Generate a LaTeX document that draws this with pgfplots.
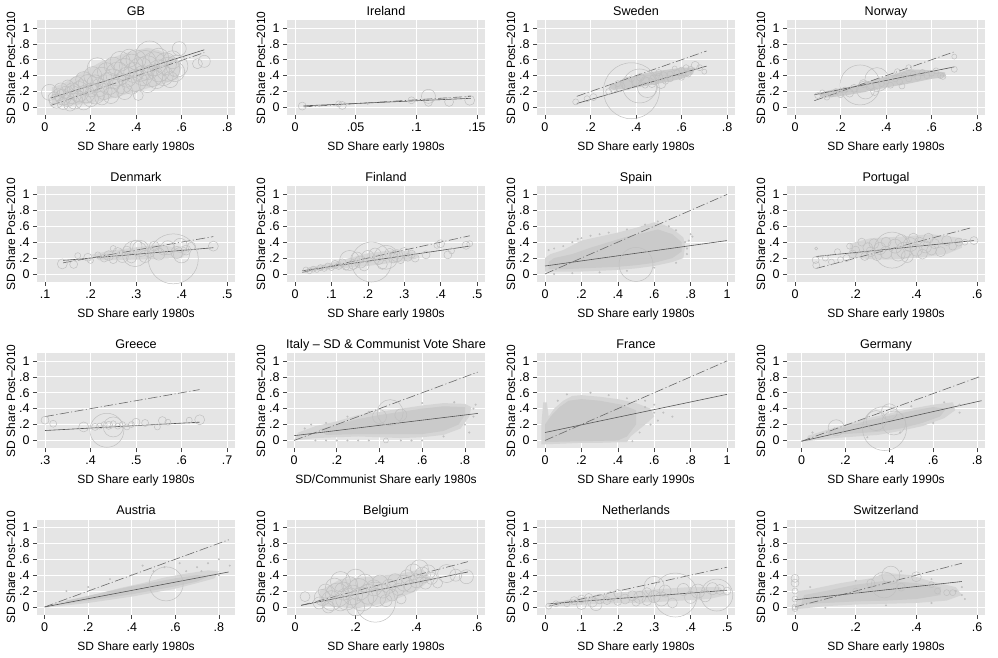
\documentclass[border=0pt]{standalone}
\usepackage{fontspec}
\setmainfont{Liberation Sans}
\usepackage{pgfplots}
\pgfplotsset{compat=1.18}
\definecolor{bg}{RGB}{229,229,229}
\definecolor{pt}{RGB}{192,192,192}
\definecolor{cin}{RGB}{202,202,202}
\definecolor{cout}{RGB}{213,213,213}
\definecolor{cul}{RGB}{214,214,214}
\definecolor{fitc}{RGB}{85,85,85}
\definecolor{refc}{RGB}{105,105,105}
\definecolor{tickc}{RGB}{70,70,70}
\pgfplotsset{
  every axis title shift=0pt,
  panel/.style={
    anchor=south west,
    scale only axis, width=198pt, height=95.4pt,
    ymin=-0.1, ymax=1.1,
    ytick={0,0.2,0.4,0.6,0.8,1},
    yticklabels={0,.2,.4,.6,.8,1},
    axis background/.style={fill=bg},
    axis line style={draw=none},
    grid=major,
    major grid style={draw=white, line width=0.8pt},
    tick align=outside,
    tick pos=left,
    major tick length=4pt,
    tick style={draw=tickc, line width=0.6pt},
    xticklabel style={font=\fontsize{12.5}{14}\selectfont, text=black},
    yticklabel style={font=\fontsize{12.5}{14}\selectfont, text=black},
    title style={at={(axis description cs:0.5,1.052)}, anchor=base, font=\fontsize{12.6}{15}\selectfont},
    every axis x label/.style={at={(axis description cs:0.5,-0.372)}, anchor=base, font=\fontsize{12}{14}\selectfont},
    every axis y label/.style={at={(axis description cs:-0.111,0.5)}, rotate=90, anchor=base, font=\fontsize{12}{14}\selectfont},
    ylabel={SD Share Post–2010},
    xlabel={SD Share early 1980s},
  },
  rings/.style={
    only marks, scatter, mark=o,
    scatter/use mapped color={draw=pt, fill=none},
    mark options={line width=0.5pt},
    visualization depends on={\thisrow{r}\as\rad},
    scatter/@pre marker code/.append style={/tikz/mark size=\rad pt},
  },
  dots/.style={only marks, color=pt, mark=*, mark size=0.8pt, mark options={fill=pt, draw=none}},
  fit/.style={fitc, line width=0.6pt},
  ref/.style={refc, line width=0.6pt, dash pattern=on 9pt off 2.5pt on 1pt off 2.5pt},
}
\begin{document}
\begin{tikzpicture}
\useasboundingbox (0pt,0pt) rectangle (998pt,657pt);
% ---------------- Row 1 ----------------
\begin{axis}[panel, at={(37pt,541.6pt)}, title={GB},
  xmin=-0.035, xmax=0.835, xtick={0,0.2,0.4,0.6,0.8}, xticklabels={0,.2,.4,.6,.8}]
\addplot[fill=cul, draw=none] coordinates {(0.03,0.05) (0.1,0.02) (0.2,0.05) (0.3,0.12) (0.4,0.2) (0.5,0.28) (0.58,0.35) (0.6,0.5) (0.58,0.62) (0.5,0.72) (0.45,0.75) (0.35,0.68) (0.25,0.58) (0.15,0.42) (0.08,0.3) (0.03,0.25)} -- cycle;
\addplot[rings] table[row sep=\\] {x y r\\
0.02 0.19 8\\ 0.04 0.12 6\\ 0.05 0.08 7\\ 0.06 0.16 6\\ 0.07 0.22 7\\ 0.08 0.05 6\\ 0.08 0.13 8\\ 0.09 0.19 6\\
0.10 0.10 7\\ 0.10 0.27 6\\ 0.11 0.03 6\\ 0.12 0.16 9\\ 0.12 0.22 7\\ 0.13 0.08 8\\ 0.14 0.30 7\\ 0.15 0.13 6\\
0.15 0.20 10\\ 0.16 0.26 7\\ 0.17 0.07 8\\ 0.17 0.35 8\\ 0.18 0.17 9\\ 0.19 0.29 10\\ 0.20 0.11 8\\ 0.20 0.22 7\\
0.21 0.40 9\\ 0.22 0.17 10\\ 0.22 0.31 8\\ 0.23 0.50 10\\ 0.24 0.25 9\\ 0.25 0.12 7\\ 0.25 0.38 10\\ 0.26 0.20 8\\
0.27 0.45 9\\ 0.28 0.30 11\\ 0.29 0.15 8\\ 0.30 0.36 10\\ 0.30 0.52 9\\ 0.31 0.24 9\\ 0.32 0.42 12\\ 0.33 0.58 10\\
0.34 0.30 10\\ 0.35 0.20 8\\ 0.35 0.48 11\\ 0.36 0.38 10\\ 0.37 0.62 9\\ 0.38 0.28 9\\ 0.38 0.52 12\\ 0.39 0.44 10\\
0.40 0.34 11\\ 0.40 0.60 10\\ 0.41 0.15 5\\ 0.42 0.48 12\\ 0.43 0.40 10\\ 0.44 0.58 11\\ 0.45 0.30 9\\ 0.45 0.50 12\\
0.46 0.66 14\\ 0.47 0.40 11\\ 0.48 0.55 12\\ 0.49 0.35 9\\ 0.50 0.62 10\\ 0.50 0.46 11\\ 0.52 0.40 10\\ 0.53 0.55 11\\
0.54 0.48 12\\ 0.55 0.35 8\\ 0.56 0.60 9\\ 0.57 0.45 10\\ 0.58 0.52 11\\ 0.59 0.74 7\\ 0.67 0.55 5\\ 0.70 0.58 6\\
};
\addplot[fit] coordinates {(0.026,0.118) (0.70,0.725)};
\addplot[ref] coordinates {(0.026,0.026) (0.70,0.69)};
\end{axis}

\begin{axis}[panel, at={(287pt,541.6pt)}, title={Ireland},
  xmin=-0.0066, xmax=0.1566, xtick={0,0.05,0.1,0.15}, xticklabels={0,.05,.1,.15}]
\addplot[rings] table[row sep=\\] {x y r\\
0.006 0.017 4\\ 0.036 0.045 3\\ 0.039 0.025 4\\ 0.096 0.09 3.5\\ 0.110 0.14 7\\ 0.110 0.065 4\\ 0.127 0.07 4.5\\ 0.144 0.09 5\\ 0.02 0.02 1\\ 0.06 0.05 1\\
};
\addplot[fit] coordinates {(0.007,0.02) (0.145,0.115)};
\addplot[ref] coordinates {(0.007,0.007) (0.145,0.14)};
\end{axis}

\begin{axis}[panel, at={(537pt,541.6pt)}, title={Sweden},
  xmin=-0.035, xmax=0.835, xtick={0,0.2,0.4,0.6,0.8}, xticklabels={0,.2,.4,.6,.8}]
\addplot[fill=cin, draw=none] coordinates {(0.3,0.22) (0.4,0.25) (0.5,0.3) (0.6,0.36) (0.65,0.42) (0.66,0.5) (0.6,0.5) (0.5,0.46) (0.42,0.42) (0.35,0.36) (0.3,0.3) (0.28,0.25)} -- cycle;
\addplot[rings] table[row sep=\\] {x y r\\
0.135 0.07 3\\ 0.185 0.11 3\\ 0.213 0.13 3.5\\ 0.28 0.2 3\\ 0.30 0.24 4\\ 0.33 0.26 5\\ 0.38 0.21 28\\ 0.416 0.27 17\\
0.45 0.25 10\\ 0.36 0.30 6\\ 0.40 0.33 5\\ 0.44 0.34 4\\ 0.48 0.35 5\\ 0.50 0.38 4\\ 0.52 0.40 4\\ 0.55 0.42 3\\
0.58 0.44 3\\ 0.60 0.47 3\\ 0.62 0.50 3\\ 0.64 0.48 3\\ 0.66 0.53 4\\ 0.70 0.45 2.5\\ 0.55 0.36 3\\ 0.47 0.30 4\\
0.42 0.38 4\\ 0.50 0.44 3\\ 0.57 0.49 2.5\\ 0.63 0.42 3\\ 0.53 0.33 3\\ 0.60 0.38 3\\ 0.44 0.28 3\\ 0.38 0.36 3\\
0.32 0.30 3\\ 0.51 0.30 5\\ 0.68 0.50 3\\
};
\addplot[fit] coordinates {(0.14,0.05) (0.71,0.52)};
\addplot[ref] coordinates {(0.14,0.14) (0.71,0.71)};
\end{axis}

\begin{axis}[panel, at={(787pt,541.6pt)}, title={Norway},
  xmin=-0.035, xmax=0.835, xtick={0,0.2,0.4,0.6,0.8}, xticklabels={0,.2,.4,.6,.8}]
\addplot[fill=cin, draw=none] coordinates {(0.12,0.12) (0.2,0.14) (0.3,0.19) (0.4,0.25) (0.5,0.3) (0.6,0.36) (0.66,0.38) (0.66,0.44) (0.58,0.47) (0.5,0.48) (0.44,0.42) (0.36,0.36) (0.26,0.27) (0.16,0.22) (0.1,0.18)} -- cycle;
\addplot[rings] table[row sep=\\] {x y r\\
0.1 0.15 3\\ 0.12 0.19 2.5\\ 0.14 0.13 3\\ 0.16 0.17 3\\ 0.18 0.2 3\\ 0.2 0.16 3\\ 0.22 0.22 3\\ 0.24 0.18 4\\
0.26 0.24 4\\ 0.286 0.283 20\\ 0.36 0.35 12\\ 0.31 0.22 9\\ 0.3 0.3 4\\ 0.33 0.26 4\\ 0.35 0.2 4\\ 0.38 0.3 3\\
0.4 0.33 3\\ 0.42 0.28 3\\ 0.44 0.36 3\\ 0.46 0.32 3\\ 0.48 0.4 3\\ 0.5 0.36 3\\ 0.5 0.5 3\\ 0.52 0.42 3\\
0.54 0.38 3\\ 0.56 0.44 3\\ 0.58 0.4 3\\ 0.6 0.43 3\\ 0.62 0.46 3\\ 0.64 0.4 3\\ 0.65 0.39 3\\ 0.7 0.48 3\\
0.7 0.64 2.5\\ 0.45 0.45 3\\ 0.47 0.27 3\\
};
\addplot[fit] coordinates {(0.085,0.16) (0.70,0.51)};
\addplot[ref] coordinates {(0.085,0.085) (0.70,0.70)};
\end{axis}

% ---------------- Row 2 ----------------
\begin{axis}[panel, at={(37pt,375.1pt)}, title={Denmark},
  xmin=0.0824, xmax=0.5176, xtick={0.1,0.2,0.3,0.4,0.5}, xticklabels={.1,.2,.3,.4,.5}]
\addplot[fill=cul, draw=none] coordinates {(0.22,0.17) (0.3,0.18) (0.4,0.2) (0.42,0.3) (0.35,0.37) (0.25,0.3) (0.2,0.24)} -- cycle;
\addplot[rings] table[row sep=\\] {x y r\\
0.138 0.126 5\\ 0.163 0.12 4\\ 0.172 0.23 3\\ 0.194 0.21 4\\ 0.216 0.24 3\\ 0.23 0.2 4\\ 0.24 0.23 5\\ 0.25 0.18 4\\
0.26 0.27 5\\ 0.27 0.22 6\\ 0.28 0.3 4\\ 0.29 0.2 5\\ 0.298 0.256 13\\ 0.31 0.32 8\\ 0.32 0.22 6\\ 0.33 0.27 5\\
0.34 0.35 5\\ 0.35 0.25 6\\ 0.36 0.3 5\\ 0.382 0.19 25\\ 0.37 0.33 7\\ 0.39 0.27 6\\ 0.397 0.36 7\\ 0.40 0.24 8\\
0.41 0.3 5\\ 0.422 0.35 4\\ 0.47 0.35 5\\ 0.25 0.32 3\\ 0.2 0.17 3\\ 0.3 0.35 6\\
};
\addplot[fit] coordinates {(0.14,0.17) (0.47,0.33)};
\addplot[ref] coordinates {(0.14,0.14) (0.47,0.47)};
\end{axis}

\begin{axis}[panel, at={(287pt,375.1pt)}, title={Finland},
  xmin=-0.022, xmax=0.522, xtick={0,0.1,0.2,0.3,0.4,0.5}, xticklabels={0,.1,.2,.3,.4,.5}]
\addplot[fill=cul, draw=none] coordinates {(0.03,0.03) (0.1,0.06) (0.2,0.1) (0.3,0.16) (0.34,0.2) (0.33,0.28) (0.27,0.3) (0.2,0.26) (0.1,0.14) (0.04,0.08)} -- cycle;
\addplot[rings] table[row sep=\\] {x y r\\
0.03 0.05 3\\ 0.04 0.04 3\\ 0.05 0.06 3\\ 0.06 0.05 2.5\\ 0.07 0.08 3\\ 0.08 0.07 3\\ 0.09 0.1 3\\ 0.1 0.08 3\\
0.11 0.12 4\\ 0.12 0.1 3.5\\ 0.13 0.14 4\\ 0.14 0.09 3.5\\ 0.15 0.17 10\\ 0.16 0.12 5\\ 0.17 0.2 6\\ 0.18 0.15 6\\
0.19 0.1 5\\ 0.21 0.15 20\\ 0.2 0.22 6\\ 0.22 0.25 6\\ 0.23 0.18 5\\ 0.25 0.21 12\\ 0.24 0.12 5\\ 0.26 0.26 5\\
0.27 0.2 5\\ 0.28 0.23 6\\ 0.29 0.18 4\\ 0.3 0.27 5\\ 0.31 0.21 4\\ 0.32 0.25 4\\ 0.33 0.2 4\\ 0.36 0.24 4\\
0.39 0.36 3\\ 0.40 0.38 4\\ 0.42 0.24 4\\ 0.43 0.29 3\\ 0.47 0.36 4\\ 0.48 0.38 3\\
};
\addplot[fit] coordinates {(0.02,0.04) (0.48,0.35)};
\addplot[ref] coordinates {(0.02,0.02) (0.48,0.48)};
\end{axis}

\begin{axis}[panel, at={(537pt,375.1pt)}, title={Spain},
  xmin=-0.044, xmax=1.044, xtick={0,0.2,0.4,0.6,0.8,1}, xticklabels={0,.2,.4,.6,.8,1}]
\addplot[fill=cout, draw=none] coordinates {(0.0,0.03) (0.1,0.03) (0.2,0.03) (0.3,0.04) (0.4,0.05) (0.5,0.07) (0.6,0.1) (0.7,0.15) (0.76,0.2) (0.77,0.35) (0.76,0.46) (0.7,0.57) (0.65,0.62) (0.6,0.65) (0.5,0.58) (0.4,0.52) (0.3,0.47) (0.2,0.42) (0.1,0.3) (0.03,0.25) (0.0,0.2)} -- cycle;
\addplot[fill=cin, draw=none] coordinates {(0.02,0.06) (0.1,0.06) (0.2,0.07) (0.3,0.08) (0.4,0.09) (0.5,0.11) (0.6,0.14) (0.7,0.2) (0.75,0.28) (0.75,0.4) (0.7,0.5) (0.62,0.56) (0.55,0.52) (0.45,0.47) (0.35,0.4) (0.25,0.33) (0.15,0.25) (0.05,0.2) (0.02,0.15)} -- cycle;
\addplot[rings] table[row sep=\\] {x y r\\ 0.5 0.12 17\\};
\addplot[dots] coordinates {(0.8,0.5) (0.78,0.32) (0.81,0.47) (0.79,0.42) (0.2,0.45) (0.25,0.48) (0.62,0.66)
 (0.02,0.3) (0.05,0.32) (0.1,0.35) (0.15,0.4) (0.18,0.44) (0.3,0.5) (0.35,0.52) (0.45,0.56) (0.55,0.62) (0.68,0.6) (0.72,0.55) (0.77,0.4) (0.78,0.25) (0.72,0.14) (0.6,0.08) (0.45,0.04) (0.3,0.02) (0.15,0.01) (0.05,0.0)};
\addplot[fit] coordinates {(0,0.10) (1,0.42)};
\addplot[ref] coordinates {(0,0) (1,1)};
\end{axis}

\begin{axis}[panel, at={(787pt,375.1pt)}, title={Portugal},
  xmin=-0.0264, xmax=0.6264, xtick={0,0.2,0.4,0.6}, xticklabels={0,.2,.4,.6}]
\addplot[fill=cul, draw=none] coordinates {(0.18,0.2) (0.3,0.18) (0.4,0.2) (0.5,0.25) (0.55,0.33) (0.55,0.45) (0.45,0.5) (0.35,0.47) (0.25,0.45) (0.18,0.38)} -- cycle;
\addplot[rings] table[row sep=\\] {x y r\\
0.07 0.32 1.5\\ 0.068 0.175 3.5\\ 0.07 0.11 3.5\\ 0.10 0.2 3\\ 0.12 0.15 3\\ 0.14 0.28 3\\ 0.15 0.18 3\\ 0.17 0.2 3.5\\
0.18 0.35 3\\ 0.19 0.25 4\\ 0.2 0.3 4\\ 0.22 0.4 4\\ 0.23 0.22 4\\ 0.24 0.33 5\\ 0.25 0.28 5\\ 0.26 0.38 5\\
0.27 0.23 5\\ 0.28 0.32 6\\ 0.3 0.27 6\\ 0.3 0.4 5\\ 0.32 0.3 18\\ 0.33 0.35 7\\ 0.34 0.25 7\\ 0.35 0.42 6\\
0.36 0.3 8\\ 0.37 0.22 6\\ 0.38 0.37 7\\ 0.39 0.45 5\\ 0.4 0.3 6\\ 0.41 0.4 5\\ 0.42 0.25 5\\ 0.43 0.34 6\\
0.44 0.45 5\\ 0.45 0.3 5\\ 0.46 0.38 5\\ 0.48 0.28 5\\ 0.5 0.42 5\\ 0.52 0.35 4\\ 0.54 0.4 4\\ 0.56 0.4 3\\ 0.59 0.42 4\\
};
\addplot[fit] coordinates {(0.07,0.22) (0.59,0.42)};
\addplot[ref] coordinates {(0.07,0.07) (0.58,0.58)};
\end{axis}

% ---------------- Row 3 ----------------
\begin{axis}[panel, at={(37pt,208.6pt)}, title={Greece},
  xmin=0.2824, xmax=0.7176, xtick={0.3,0.4,0.5,0.6,0.7}, xticklabels={.3,.4,.5,.6,.7}]
\addplot[rings] table[row sep=\\] {x y r\\
0.30 0.255 4\\ 0.318 0.21 3.5\\ 0.385 0.17 5\\ 0.41 0.17 3.5\\ 0.436 0.128 17\\ 0.45 0.17 10\\ 0.42 0.18 3\\ 0.43 0.2 3\\
0.44 0.19 4\\ 0.45 0.21 3\\ 0.46 0.18 3\\ 0.47 0.2 3\\ 0.48 0.17 3\\ 0.49 0.2 3\\ 0.50 0.23 4\\ 0.52 0.22 3.5\\
0.547 0.17 3\\ 0.558 0.25 4\\ 0.57 0.23 3\\ 0.617 0.255 3\\ 0.64 0.26 5\\
};
\addplot[fit] coordinates {(0.30,0.125) (0.64,0.23)};
\addplot[ref] coordinates {(0.30,0.30) (0.64,0.64)};
\end{axis}

\begin{axis}[panel, at={(287pt,208.6pt)}, title={Italy – SD \& Communist Vote Share}, xlabel={SD/Communist Share early 1980s},
  xmin=-0.033, xmax=0.894, xtick={0,0.2,0.4,0.6,0.8}, xticklabels={0,.2,.4,.6,.8}]
\addplot[fill=cout, draw=none] coordinates {(0.0,0.0) (0.1,0.03) (0.2,0.04) (0.3,0.05) (0.4,0.04) (0.5,0.03) (0.6,0.04) (0.7,0.07) (0.78,0.15) (0.82,0.3) (0.83,0.42) (0.8,0.46) (0.7,0.47) (0.6,0.44) (0.5,0.4) (0.4,0.36) (0.3,0.32) (0.2,0.24) (0.1,0.18) (0.02,0.1)} -- cycle;
\addplot[fill=cin, draw=none] coordinates {(0.15,0.07) (0.3,0.08) (0.45,0.08) (0.6,0.08) (0.7,0.12) (0.77,0.2) (0.8,0.32) (0.8,0.42) (0.7,0.43) (0.6,0.4) (0.5,0.36) (0.4,0.32) (0.3,0.27) (0.2,0.2) (0.12,0.14)} -- cycle;
\addplot[rings] table[row sep=\\] {x y r\\ 0.45 0.35 13\\ 0.40 0.30 7\\ 0.50 0.32 6\\ 0.43 0.0 2.5\\};
\addplot[dots] coordinates {(0.1,0.0) (0.15,0.0) (0.2,0.0) (0.25,0.0) (0.3,0.0) (0.35,0.0) (0.5,0.0) (0.55,0.0) (0.6,0.0) (0.82,0.1) (0.85,0.45)
 (0.05,0.15) (0.08,0.2) (0.15,0.22) (0.25,0.3) (0.35,0.36) (0.6,0.47) (0.75,0.48) (0.84,0.4) (0.84,0.3) (0.8,0.2) (0.7,0.05)};
\addplot[fit] coordinates {(0,0.06) (0.86,0.34)};
\addplot[ref] coordinates {(0,0) (0.86,0.86)};
\end{axis}

\begin{axis}[panel, at={(537pt,208.6pt)}, title={France}, xlabel={SD Share early 1990s},
  xmin=-0.044, xmax=1.044, xtick={0,0.2,0.4,0.6,0.8,1}, xticklabels={0,.2,.4,.6,.8,1}]
\addplot[fill=cout, draw=none] coordinates {(-0.02,-0.05) (0.1,-0.04) (0.2,-0.03) (0.3,-0.03) (0.45,-0.02) (0.47,0.05) (0.55,0.2) (0.6,0.3) (0.58,0.4) (0.5,0.47) (0.4,0.52) (0.3,0.55) (0.2,0.57) (0.15,0.56) (0.1,0.5) (0.05,0.4) (0.02,0.3) (0.01,0.48) (-0.01,0.48) (-0.02,0.2)} -- cycle;
\addplot[fill=cin, draw=none] coordinates {(0.0,-0.02) (0.2,-0.01) (0.4,0.0) (0.45,0.05) (0.5,0.2) (0.5,0.38) (0.42,0.45) (0.3,0.5) (0.2,0.52) (0.13,0.5) (0.08,0.42) (0.03,0.3) (0.0,0.2)} -- cycle;
\addplot[dots] coordinates {(0.6,0.45) (0.65,0.35) (0.62,0.25) (0.7,0.3) (0.55,0.5)
 (0.5,0.5) (0.45,0.53) (0.35,0.57) (0.25,0.6) (0.12,0.58) (0.07,0.5) (0.55,0.42) (0.6,0.35) (0.58,0.2) (0.52,0.1) (0.48,-0.01)};
\addplot[fit] coordinates {(0,0.10) (1,0.58)};
\addplot[ref] coordinates {(0,0) (1,1)};
\end{axis}

\begin{axis}[panel, at={(787pt,208.6pt)}, title={Germany}, xlabel={SD Share early 1990s},
  xmin=-0.066, xmax=0.836, xtick={0,0.2,0.4,0.6,0.8}, xticklabels={0,.2,.4,.6,.8}]
\addplot[fill=cout, draw=none] coordinates {(0.02,-0.01) (0.15,0.03) (0.25,0.05) (0.35,0.07) (0.45,0.12) (0.55,0.18) (0.65,0.28) (0.7,0.38) (0.69,0.48) (0.6,0.45) (0.5,0.4) (0.4,0.34) (0.3,0.28) (0.2,0.2) (0.1,0.12) (0.03,0.06)} -- cycle;
\addplot[fill=cin, draw=none] coordinates {(0.12,0.07) (0.25,0.09) (0.35,0.11) (0.45,0.15) (0.55,0.22) (0.63,0.3) (0.66,0.4) (0.6,0.42) (0.5,0.37) (0.4,0.31) (0.3,0.25) (0.2,0.17) (0.12,0.11)} -- cycle;
\addplot[rings] table[row sep=\\] {x y r\\ 0.158 0.16 8\\ 0.378 0.15 22\\ 0.40 0.36 8\\ 0.34 0.25 10\\ 0.42 0.22 12\\};
\addplot[dots] coordinates {(0.05,0.1) (0.15,0.15) (0.3,0.3) (0.5,0.43) (0.65,0.48) (0.72,0.45) (0.72,0.35) (0.6,0.22) (0.45,0.1) (0.3,0.04)};
\addplot[fit] coordinates {(0,-0.01) (0.82,0.50)};
\addplot[ref] coordinates {(0,-0.01) (0.82,0.81)};
\end{axis}

% ---------------- Row 4 ----------------
\begin{axis}[panel, at={(37pt,42.1pt)}, title={Austria},
  xmin=-0.035, xmax=0.874, xtick={0,0.2,0.4,0.6,0.8}, xticklabels={0,.2,.4,.6,.8}]
\addplot[fill=cout, draw=none] coordinates {(0.0,-0.01) (0.1,0.02) (0.2,0.05) (0.3,0.09) (0.4,0.13) (0.5,0.18) (0.6,0.23) (0.7,0.3) (0.78,0.36) (0.8,0.45) (0.75,0.46) (0.65,0.42) (0.55,0.37) (0.45,0.3) (0.35,0.24) (0.25,0.17) (0.15,0.1) (0.05,0.05)} -- cycle;
\addplot[fill=cin, draw=none] coordinates {(0.1,0.04) (0.2,0.08) (0.3,0.12) (0.4,0.16) (0.5,0.21) (0.6,0.26) (0.7,0.32) (0.75,0.38) (0.7,0.4) (0.6,0.36) (0.5,0.31) (0.4,0.26) (0.3,0.2) (0.2,0.14) (0.1,0.08)} -- cycle;
\addplot[rings] table[row sep=\\] {x y r\\ 0.558 0.29 17\\};
\addplot[dots] coordinates {(0.5,0.45) (0.55,0.5) (0.62,0.55) (0.7,0.5) (0.75,0.55) (0.8,0.6) (0.85,0.52) (0.3,0.35) (0.4,0.4) (0.45,0.52) (0.2,0.25) (0.1,0.2) (0.65,0.45) (0.72,0.45) (0.8,0.4)};
\addplot[fit] coordinates {(0,0) (0.845,0.44)};
\addplot[ref] coordinates {(0,0) (0.845,0.845)};
\end{axis}

\begin{axis}[panel, at={(287pt,42.1pt)}, title={Belgium},
  xmin=-0.0264, xmax=0.6264, xtick={0,0.2,0.4,0.6}, xticklabels={0,.2,.4,.6}]
\addplot[fill=cul, draw=none] coordinates {(0.08,0.02) (0.2,-0.02) (0.3,0.05) (0.4,0.2) (0.45,0.35) (0.42,0.48) (0.35,0.42) (0.25,0.38) (0.15,0.35) (0.08,0.2)} -- cycle;
\addplot[rings] table[row sep=\\] {x y r\\
0.033 0.13 5\\ 0.08 0.05 6\\ 0.09 0.12 8\\ 0.10 0.2 7\\ 0.11 0.0 6\\ 0.12 0.08 10\\ 0.13 0.25 9\\ 0.14 0.15 12\\
0.15 0.05 8\\ 0.15 0.32 10\\ 0.16 0.2 9\\ 0.17 0.1 11\\ 0.18 0.28 8\\ 0.19 0.15 10\\ 0.2 0.0 9\\ 0.2 0.35 10\\
0.21 0.22 11\\ 0.22 0.1 12\\ 0.23 0.3 9\\ 0.24 0.16 10\\ 0.265 0.06 20\\ 0.26 0.24 8\\ 0.27 0.12 9\\ 0.28 0.3 8\\
0.29 0.2 7\\ 0.3 0.08 6\\ 0.31 0.26 7\\ 0.32 0.15 6\\ 0.33 0.33 7\\ 0.34 0.22 6\\ 0.36 0.3 8\\ 0.37 0.38 7\\
0.38 0.26 6\\ 0.39 0.44 8\\ 0.4 0.33 7\\ 0.41 0.48 9\\ 0.42 0.4 8\\ 0.43 0.3 6\\ 0.44 0.44 7\\ 0.45 0.36 6\\
0.47 0.3 5\\ 0.5 0.42 9\\ 0.53 0.4 6\\ 0.565 0.38 7\\ 0.35 0.1 5\\
};
\addplot[fit] coordinates {(0.02,0.02) (0.57,0.44)};
\addplot[ref] coordinates {(0.02,0.02) (0.57,0.57)};
\end{axis}

\begin{axis}[panel, at={(537pt,42.1pt)}, title={Netherlands},
  xmin=-0.022, xmax=0.522, xtick={0,0.1,0.2,0.3,0.4,0.5}, xticklabels={0,.1,.2,.3,.4,.5}]
\addplot[fill=cul, draw=none] coordinates {(0.03,0.01) (0.15,0.04) (0.3,0.06) (0.45,0.1) (0.5,0.15) (0.48,0.25) (0.4,0.25) (0.3,0.22) (0.2,0.18) (0.1,0.12) (0.03,0.06)} -- cycle;
\addplot[rings] table[row sep=\\] {x y r\\
0.01 0.01 3\\ 0.03 0.04 3\\ 0.06 0.04 3\\ 0.08 0.08 4\\ 0.1 0.03 5\\ 0.1 0.1 4\\ 0.12 0.12 4\\ 0.13 0.06 5\\
0.14 0.03 6\\ 0.15 0.1 5\\ 0.17 0.08 4\\ 0.18 0.13 5\\ 0.2 0.17 4\\ 0.2 0.07 4\\ 0.22 0.1 5\\ 0.24 0.14 5\\
0.25 0.06 4\\ 0.26 0.12 6\\ 0.28 0.18 5\\ 0.28 0.08 5\\ 0.3 0.26 10\\ 0.3 0.13 6\\ 0.32 0.1 7\\ 0.33 0.2 6\\
0.358 0.15 22\\ 0.38 0.22 6\\ 0.4 0.12 6\\ 0.42 0.2 7\\ 0.44 0.14 6\\ 0.46 0.23 6\\ 0.472 0.15 16\\ 0.48 0.22 5\\
0.5 0.2 4\\ 0.35 0.05 5\\
};
\addplot[fit] coordinates {(0.01,0.04) (0.50,0.21)};
\addplot[ref] coordinates {(0.01,0.01) (0.50,0.50)};
\end{axis}

\begin{axis}[panel, at={(787pt,42.1pt)}, title={Switzerland},
  xmin=-0.0264, xmax=0.6264, xtick={0,0.2,0.4,0.6}, xticklabels={0,.2,.4,.6}]
\addplot[fill=cout, draw=none] coordinates {(0.0,-0.03) (0.1,0.01) (0.2,0.03) (0.3,0.04) (0.4,0.05) (0.5,0.08) (0.55,0.15) (0.53,0.25) (0.45,0.32) (0.38,0.4) (0.3,0.43) (0.25,0.36) (0.15,0.3) (0.05,0.22) (0.01,0.2)} -- cycle;
\addplot[fill=cin, draw=none] coordinates {(0.02,0.03) (0.1,0.05) (0.2,0.07) (0.3,0.08) (0.4,0.1) (0.48,0.15) (0.48,0.25) (0.4,0.3) (0.3,0.33) (0.2,0.28) (0.1,0.2) (0.03,0.15)} -- cycle;
\addplot[rings] table[row sep=\\] {x y r\\
0.0 0.36 4\\ 0.0 0.3 4\\ 0.0 0.2 3\\ 0.0 0.1 3\\ 0.0 0.0 3\\ 0.0 -0.02 3\\ 0.294 0.277 13\\ 0.316 0.4 9\\
0.4 0.38 5\\ 0.47 0.2 3\\ 0.5 0.18 3\\ 0.52 0.18 3\\ 0.2 0.2 3\\ 0.25 0.3 4\\ 0.35 0.25 4\\ 0.45 0.28 3\\
};
\addplot[dots] coordinates {(0.55,0.15) (0.53,0.2) (0.05,0.25) (0.2,0.33) (0.35,0.45) (0.45,0.35) (0.55,0.25) (0.56,0.1) (0.45,0.05) (0.3,0.02) (0.1,-0.01)};
\addplot[fit] coordinates {(0,0.09) (0.55,0.32)};
\addplot[ref] coordinates {(0,0) (0.55,0.55)};
\end{axis}
\end{tikzpicture}
\end{document}
